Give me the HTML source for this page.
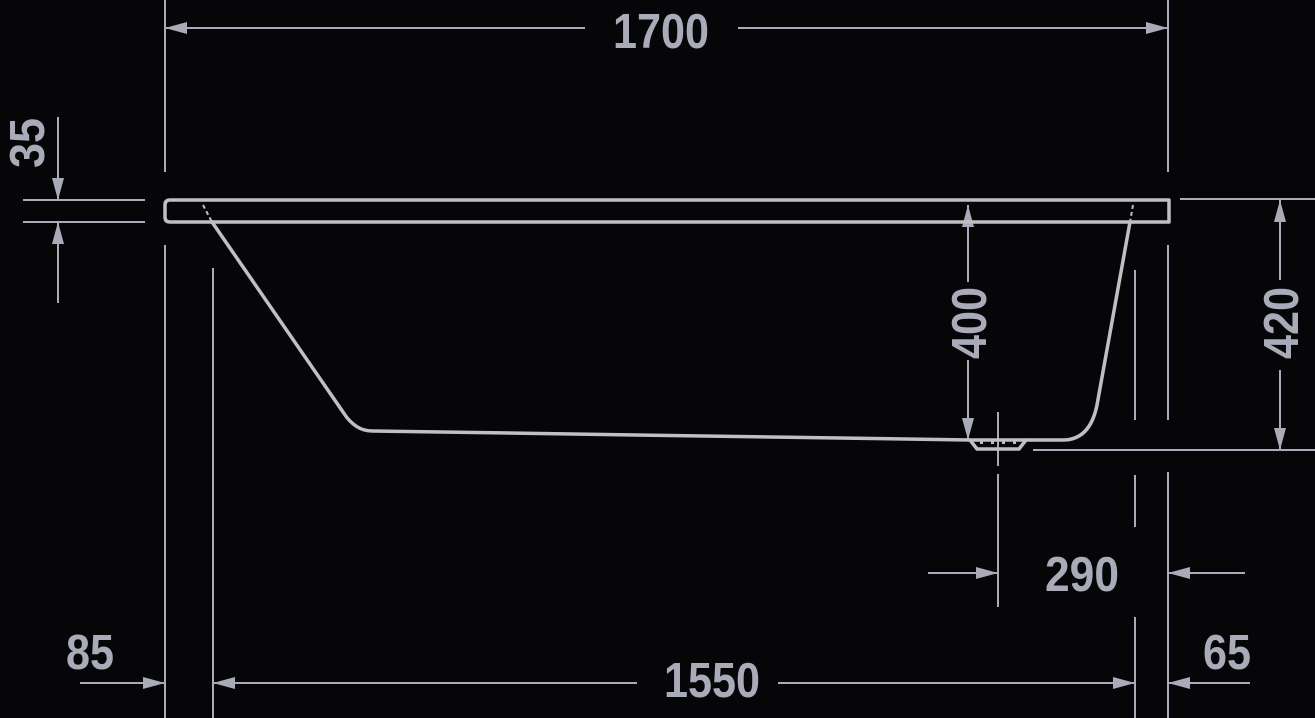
<!DOCTYPE html>
<html><head><meta charset="utf-8"><style>
html,body{margin:0;padding:0;background:#060608;}
svg{display:block}
text{font-family:"Liberation Sans",sans-serif;font-weight:bold;font-size:49px;fill:#a9abb8;}
</style></head><body>
<svg width="1315" height="718" viewBox="0 0 1315 718" xmlns="http://www.w3.org/2000/svg">
<defs>
<marker id="a" viewBox="0 0 22 12" refX="22" refY="6" markerWidth="22" markerHeight="12" markerUnits="userSpaceOnUse" orient="auto"><path d="M0,0 L22,6 L0,12 z" fill="#a9abb8"/></marker>
</defs>
<g stroke="#a9abb8" stroke-width="2" fill="none">
<line x1="165" y1="0" x2="165" y2="172"/>
<line x1="165" y1="245" x2="165" y2="718"/>
<line x1="1168" y1="0" x2="1168" y2="172"/>
<line x1="1168" y1="245" x2="1168" y2="420"/>
<line x1="1168" y1="472" x2="1168" y2="718"/>
<line x1="213" y1="268" x2="213" y2="718"/>
<line x1="1135" y1="270" x2="1135" y2="420"/>
<line x1="1135" y1="475" x2="1135" y2="527"/>
<line x1="1135" y1="617" x2="1135" y2="718"/>
<line x1="998" y1="412" x2="998" y2="466"/>
<line x1="998" y1="474" x2="998" y2="607"/>
<line x1="585" y1="28" x2="165" y2="28" marker-end="url(#a)"/>
<line x1="738" y1="28" x2="1168" y2="28" marker-end="url(#a)"/>
<line x1="23" y1="200" x2="145" y2="200"/>
<line x1="23" y1="222" x2="145" y2="222"/>
<line x1="58" y1="117" x2="58" y2="200" marker-end="url(#a)"/>
<line x1="58" y1="303" x2="58" y2="222" marker-end="url(#a)"/>
<line x1="968" y1="350" x2="968" y2="205" marker-end="url(#a)"/>
<line x1="968" y1="290" x2="968" y2="440" marker-end="url(#a)"/>
<line x1="1180" y1="199" x2="1315" y2="199"/>
<line x1="1033" y1="450" x2="1315" y2="450"/>
<line x1="1280" y1="280" x2="1280" y2="200" marker-end="url(#a)"/>
<line x1="1280" y1="370" x2="1280" y2="450" marker-end="url(#a)"/>
<line x1="928" y1="573" x2="998" y2="573" marker-end="url(#a)"/>
<line x1="1245" y1="573" x2="1168" y2="573" marker-end="url(#a)"/>
<line x1="637" y1="683" x2="213" y2="683" marker-end="url(#a)"/>
<line x1="778" y1="683" x2="1135" y2="683" marker-end="url(#a)"/>
<line x1="80" y1="683" x2="165" y2="683" marker-end="url(#a)"/>
<line x1="1250" y1="683" x2="1168" y2="683" marker-end="url(#a)"/>
</g>
<g stroke="#c0c0c2" stroke-width="3.5" fill="none" stroke-linejoin="round">
<path d="M170,200 L1169,200 L1169,222 L170,222 Q165,222 165,217 L165,205 Q165,200 170,200 Z"/>
<path d="M212,222 L343,412 Q355,431 372,431 L970,440 L977,449 L1019,449 L1026,440 L1063,440 Q1090,440 1097,405 L1130,222"/>
<path d="M970,440 L1026,440"/>
<path d="M203,205 L212,222 M1133,205 L1130,222" stroke-dasharray="4,3" stroke-width="2"/>
</g>
<g fill="#c0c0c2">
<rect x="980" y="440" width="3" height="4"/><rect x="991" y="440" width="3" height="4"/><rect x="1002" y="440" width="3" height="4"/><rect x="1013" y="440" width="3" height="4"/>
</g>
<rect x="940" y="282" width="56" height="78" fill="#060608"/>
<rect x="1252" y="282" width="56" height="78" fill="#060608"/>
<text x="613" y="48" textLength="96" lengthAdjust="spacingAndGlyphs">1700</text>
<text x="664" y="697" textLength="96" lengthAdjust="spacingAndGlyphs">1550</text>
<text x="1045" y="591" textLength="74" lengthAdjust="spacingAndGlyphs">290</text>
<text x="66" y="669" textLength="48" lengthAdjust="spacingAndGlyphs">85</text>
<text x="1203" y="669" textLength="48" lengthAdjust="spacingAndGlyphs">65</text>
<text transform="translate(44,168) rotate(-90)" textLength="50" lengthAdjust="spacingAndGlyphs">35</text>
<text transform="translate(986,359) rotate(-90)" textLength="72" lengthAdjust="spacingAndGlyphs">400</text>
<text transform="translate(1298,359) rotate(-90)" textLength="72" lengthAdjust="spacingAndGlyphs">420</text>
</svg>
</body></html>
